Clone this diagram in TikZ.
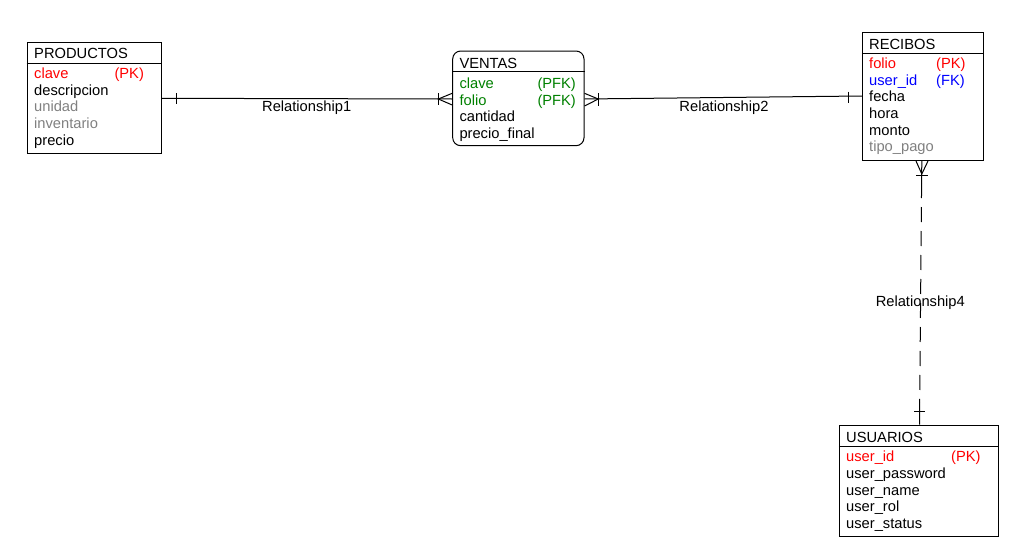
\documentclass[tikz,border=0pt]{standalone}
\usepackage{fontspec}
\setmainfont{Liberation Sans}
\usepackage{tikz}
\usetikzlibrary{positioning}

\definecolor{pkred}{RGB}{255,0,0}
\definecolor{fkblue}{RGB}{0,0,255}
\definecolor{pfkgreen}{RGB}{0,128,0}
\definecolor{optgray}{RGB}{128,128,128}
\newcommand{\erfont}{\fontsize{14.7}{17}\selectfont}

\tikzset{
  ent/.style={draw=black,line width=1pt,inner sep=0pt},
  etitle/.style={anchor=base west,inner sep=0pt,font=\erfont},
  attr/.style={anchor=base west,inner sep=0pt,font=\erfont},
  rlabel/.style={anchor=base,inner sep=0pt,font=\erfont},
  rel/.style={line width=1pt},
  relmark/.style={line width=1pt},
}

\begin{document}
\begin{tikzpicture}[x=1pt,y=-1pt]
\useasboundingbox (0,0) rectangle (1033,554);

% entities
\node[ent,minimum width=134,minimum height=111] (productos) at (94,97.5) {};
\node[ent,rounded corners=8pt,minimum width=131.3,minimum height=94.7] (ventas) at (518.35,98.35) {};
\node[ent,minimum width=121,minimum height=127.7] (recibos) at (922.8,96.15) {};
\node[ent,minimum width=159,minimum height=111] (usuarios) at (918.8,480.5) {};

\draw[line width=1pt] (productos.west |- 0,63.3) -- (productos.east |- 0,63.3);
\draw[line width=1pt] (ventas.west |- 0,71) -- (ventas.east |- 0,71);
\draw[line width=1pt] (recibos.west |- 0,53.3) -- (recibos.east |- 0,53.3);
\draw[line width=1pt] (usuarios.west |- 0,446.7) -- (usuarios.east |- 0,446.7);

\node[etitle] (productos-t) at (34,58) {PRODUCTOS};
\node[etitle] (ventas-t) at (459.3,68) {VENTAS};
\node[etitle] (recibos-t) at (869,49) {RECIBOS};
\node[etitle] (usuarios-t) at (846,442) {USUARIOS};

% attributes
\foreach \t/\c [count=\i from 0] in {clave/pkred,descripcion/black,unidad/optgray,inventario/optgray,precio/black}
  \node[attr,text=\c] (prod-\i) at (34,{78.3+16.7*\i}) {\t};
\node[attr,text=pkred] (prod-k) at (114.3,78.3) {(PK)};

\foreach \t/\c [count=\i from 0] in {clave/pfkgreen,folio/pfkgreen,cantidad/black,precio\_final/black}
  \node[attr,text=\c] (vent-\i) at (459.3,{88.3+16.7*\i}) {\t};
\node[attr,text=pfkgreen] (vent-k0) at (537.3,88.3) {(PFK)};
\node[attr,text=pfkgreen] (vent-k1) at (537.3,105) {(PFK)};

\foreach \t/\c [count=\i from 0] in {folio/pkred,user\_id/fkblue,fecha/black,hora/black,monto/black,tipo\_pago/optgray}
  \node[attr,text=\c] (rec-\i) at (869,{68.3+16.7*\i}) {\t};
\node[attr,text=pkred] (rec-k0) at (936,68.3) {(PK)};
\node[attr,text=fkblue] (rec-k1) at (936,85) {(FK)};

\foreach \t/\c [count=\i from 0] in {user\_id/pkred,user\_password/black,user\_name/black,user\_rol/black,user\_status/black}
  \node[attr,text=\c] (usr-\i) at (846,{461.7+16.7*\i}) {\t};
\node[attr,text=pkred] (usr-k) at (951,461.7) {(PK)};

% Relationship1
\draw[rel] (productos.east |- 0,98.3) -- (ventas.west |- 0,99);
\draw[relmark] (176,93) -- (176,104);
\draw[relmark] (438.3,93) -- (438.3,105);
\draw[relmark] (ventas.west |- 0,93.3) -- (438.3,99) -- (ventas.west |- 0,105);
\node[rlabel] (rel1) at (306.7,111) {Relationship1};

% Relationship2
\draw[rel] (ventas.east |- 0,99) -- (recibos.west |- 0,96);
\draw[relmark] (ventas.east |- 0,93.3) -- (598.3,99) -- (ventas.east |- 0,106);
\draw[relmark] (598.3,93.3) -- (598.3,106);
\draw[relmark] (848.3,91.7) -- (848.3,102.7);
\node[rlabel] (rel2) at (724,111) {Relationship2};

% Relationship4
\coordinate (r4a) at (recibos.south -| 921.8,0);
\coordinate (r4b) at (usuarios.north -| 919.5,0);
\draw[rel] (r4a) -- (921.6,183);
\draw[rel,dash pattern=on 15pt off 9pt] (921.6,183) -- (919.7,402);
\draw[rel] (919.7,402) -- (r4b);
\draw[relmark] (916,161) -- (921.8,174) -- (928,161);
\draw[relmark] (916,175) -- (928,175);
\draw[relmark] (914,411.7) -- (925,411.7);
\node[rlabel] (rel4) at (920.3,306.7) {Relationship4};
\end{tikzpicture}
\end{document}
